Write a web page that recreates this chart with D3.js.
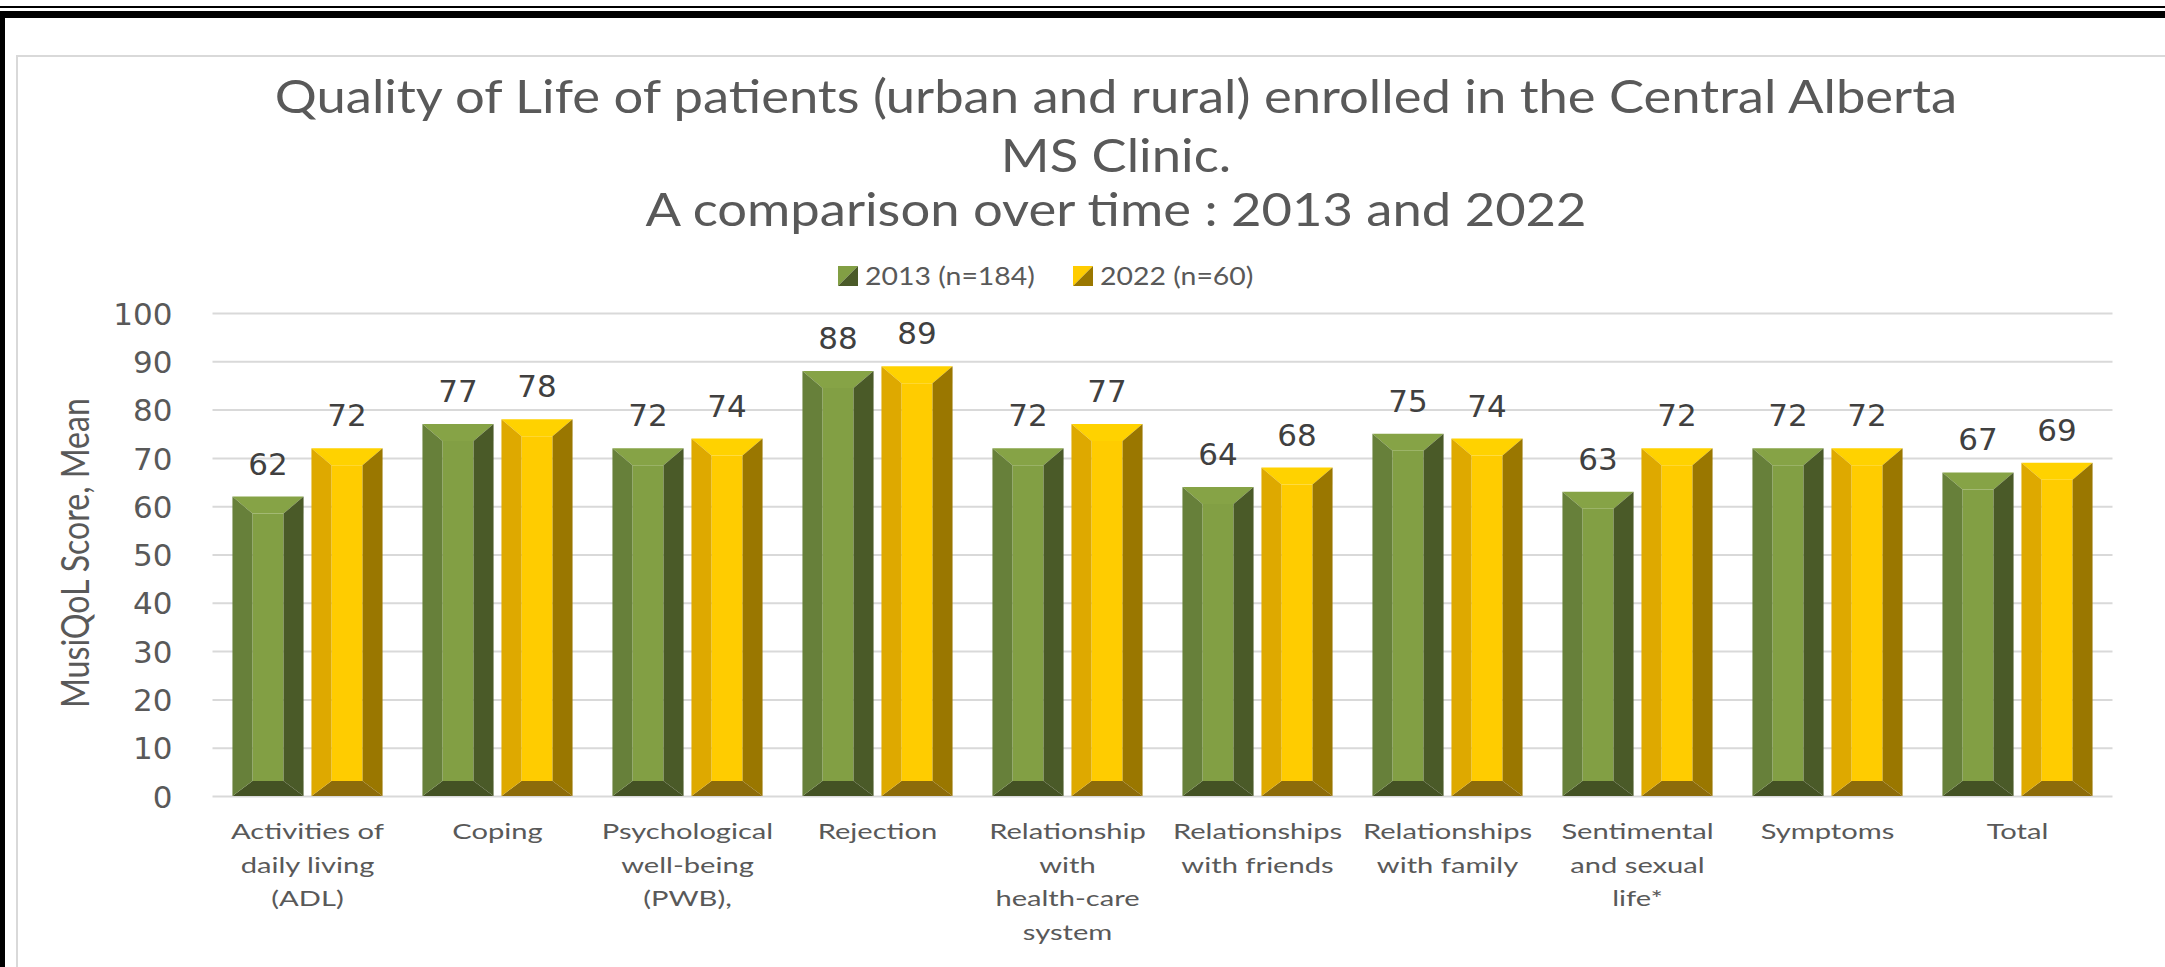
<!DOCTYPE html>
<html>
<head>
<meta charset="utf-8">
<script src="https://cdn.jsdelivr.net/npm/d3@7"></script>
<style>
    body { margin: 0; background: #fff; }
    svg { display: block; }
</style>
</head>
<body>
<div id="chart"></div>
<script>
// Chart data
const categories = [
    ['Activities of', 'daily living', '(ADL)'],
    ['Coping'],
    ['Psychological', 'well-being', '(PWB),'],
    ['Rejection'],
    ['Relationship', 'with', 'health-care', 'system'],
    ['Relationships', 'with friends'],
    ['Relationships', 'with family'],
    ['Sentimental', 'and sexual', 'life*'],
    ['Symptoms'],
    ['Total']
];
const seriesNames = ['2013 (n=184)', '2022 (n=60)'];
const values2013 = [62, 77, 72, 88, 72, 64, 75, 63, 72, 67];
const values2022 = [72, 78, 74, 89, 77, 68, 74, 72, 72, 69];
const yTicks = [0, 10, 20, 30, 40, 50, 60, 70, 80, 90, 100];
const titleLines = [
    'Quality of Life of patients (urban and rural) enrolled in the Central Alberta',
    'MS Clinic.',
    'A comparison over time : 2013 and 2022'
];
const yTitle = 'MusiQoL Score, Mean';

// bevel colours per series: top, left, centre, right, bottom
const palettes = [
    { top: '#86a346', left: '#67803a', mid: '#829f44', right: '#4a5a28', bottom: '#445224' },
    { top: '#ffd200', left: '#dea900', mid: '#ffcc00', right: '#9a7700', bottom: '#8d6c0a' }
];

const W = 2165, H = 967;
const plot = { left: 212.5, right: 2112.5, top: 313, bottom: 796 };
const textFont = 'Lato, "Open Sans", sans-serif';
const numFont = '"DejaVu Sans", Verdana, sans-serif';

function draw() {
    const svg = d3.select('#chart')
        .append('svg')
        .attr('width', W)
        .attr('height', H);

    // outer black border of the picture
    svg.append('rect').attr('x', 0).attr('y', 6).attr('width', W).attr('height', 2).attr('fill', '#000');
    svg.append('rect').attr('x', 0).attr('y', 11).attr('width', W).attr('height', 7).attr('fill', '#000');
    svg.append('rect').attr('x', 0).attr('y', 11).attr('width', 5).attr('height', H).attr('fill', '#000');

    // chart area frame
    svg.append('rect')
        .attr('x', 17).attr('y', 56)
        .attr('width', W).attr('height', H)
        .attr('fill', 'none')
        .attr('stroke', '#d9d9d9')
        .attr('stroke-width', 2);

    // Scales
    const x0 = d3.scaleBand()
        .domain(d3.range(categories.length))
        .range([plot.left, plot.right])
        .paddingInner(0.21)
        .paddingOuter(0.105);

    const x1 = d3.scaleBand()
        .domain([0, 1])
        .range([0, x0.bandwidth()])
        .paddingInner(0.1);

    const y = d3.scaleLinear()
        .domain([0, 100])
        .range([plot.bottom, plot.top]);

    // y axis with gridlines
    const yAxis = svg.append('g')
        .attr('transform', `translate(${plot.left},0)`)
        .call(d3.axisLeft(y)
            .tickValues(yTicks)
            .tickSize(-(plot.right - plot.left))
            .tickPadding(40));

    yAxis.select('.domain').remove();
    yAxis.selectAll('.tick line')
        .attr('stroke', '#d9d9d9')
        .attr('stroke-width', 2);
    yAxis.selectAll('.tick text')
        .attr('fill', '#595959')
        .attr('font-family', numFont)
        .attr('font-size', 31)
        .attr('dy', '0.36em');

    // Bars
    const series = [values2013, values2022];
    const bars = svg.append('g').attr('class', 'bars');

    series.forEach((vals, s) => {
        const pal = palettes[s];
        vals.forEach((v, i) => {
            const bx = x0(i) + x1(s);
            const bw = x1.bandwidth();
            const by = y(v);
            const bh = y(0) - by;
            const a = 20, t = 17, b = 15;
            const TL = [bx, by], TR = [bx + bw, by], BR = [bx + bw, by + bh], BL = [bx, by + bh];
            const tl = [bx + a, by + t], tr = [bx + bw - a, by + t];
            const br = [bx + bw - a, by + bh - b], bl = [bx + a, by + bh - b];
            const g = bars.append('g');
            const poly = (pts, fill) => g.append('polygon')
                .attr('points', pts.map(p => p.join(',')).join(' '))
                .attr('fill', fill);
            poly([tl, tr, br, bl], pal.mid);
            poly([TL, TR, tr, tl], pal.top);
            poly([TR, BR, br, tr], pal.right);
            poly([BL, BR, br, bl], pal.bottom);
            poly([TL, BL, bl, tl], pal.left);

            // value label
            bars.append('text')
                .attr('x', bx + bw / 2)
                .attr('y', by - 22)
                .attr('text-anchor', 'middle')
                .attr('font-family', numFont)
                .attr('font-size', 31)
                .attr('fill', '#404040')
                .text(v);
        });
    });

    // helper: text squeezed/stretched horizontally by factor k
    function scaledText(parent, x, yPos, str, size, k, anchor) {
        return parent.append('text')
            .attr('transform', `translate(${x},${yPos}) scale(${k},1)`)
            .attr('text-anchor', anchor || 'middle')
            .attr('font-family', textFont)
            .attr('font-size', size)
            .attr('fill', '#595959')
            .text(str);
    }

    function measure(str, size) {
        const tmp = svg.append('text')
            .attr('font-family', textFont)
            .attr('font-size', size)
            .text(str);
        const w = tmp.node().getComputedTextLength();
        tmp.remove();
        return w;
    }

    // Category labels
    const catSize = 22;
    const kCat = 153 / measure('Activities of', catSize);
    const catG = svg.append('g').attr('class', 'categories');
    categories.forEach((lines, i) => {
        const cx = x0(i) + x0.bandwidth() / 2;
        lines.forEach((line, j) => {
            scaledText(catG, cx, 839 + j * 33.5, line, catSize, kCat);
        });
    });

    // Title
    const titleSize = 46;
    const kTitle = 1683 / measure(titleLines[0], titleSize);
    const titleBase = [113, 172, 226];
    titleLines.forEach((line, j) => {
        scaledText(svg, 1116, titleBase[j], line, titleSize, kTitle);
    });

    // Legend
    const legSize = 25;
    const kLeg = 170 / measure(seriesNames[0], legSize);
    const legX = [838, 1073];
    const legY = 276;
    seriesNames.forEach((name, s) => {
        const pal = palettes[s];
        const mx = legX[s], my = legY - 10, ms = 20;
        svg.append('polygon')
            .attr('points', `${mx},${my} ${mx + ms},${my} ${mx},${my + ms}`)
            .attr('fill', pal.mid);
        svg.append('polygon')
            .attr('points', `${mx + ms},${my} ${mx + ms},${my + ms} ${mx},${my + ms}`)
            .attr('fill', pal.right);
        scaledText(svg, mx + 27, legY + 9, name, legSize, kLeg, 'start');
    });

    // Y axis title
    const yTitleSize = 38;
    const kY = 310 / measure(yTitle, yTitleSize);
    svg.append('text')
        .attr('transform', `translate(89,553) rotate(-90) scale(${kY},1)`)
        .attr('text-anchor', 'middle')
        .attr('font-family', textFont)
        .attr('font-size', yTitleSize)
        .attr('fill', '#595959')
        .text(yTitle);
}

if (document.fonts && document.fonts.ready) {
    document.fonts.ready.then(draw);
} else {
    draw();
}
</script>
</body>
</html>
